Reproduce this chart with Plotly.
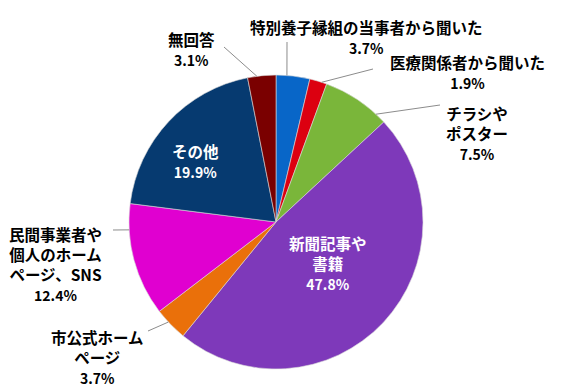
import math
import plotly.graph_objects as go

# ---- data ----
categories = ["特別養子縁組の当事者から聞いた", "医療関係者から聞いた", "チラシやポスター",
              "新聞記事や書籍", "市公式ホームページ", "民間事業者や個人のホームページ、SNS",
              "その他", "無回答"]
values = [3.7, 1.9, 7.5, 47.8, 3.7, 12.4, 19.9, 3.1]
label_lines = [["特別養子縁組の当事者から聞いた"], ["医療関係者から聞いた"], ["チラシや", "ポスター"],
               ["新聞記事や", "書籍"], ["市公式ホーム", "ページ"], ["民間事業者や", "個人のホーム", "ページ、SNS"],
               ["その他"], ["無回答"]]
colors = ["#0866C8", "#DC0010", "#7AB63A", "#7E39BA", "#EA700A", "#E000D0", "#063A70", "#7A0000"]

# ---- layout geometry (pixels) ----
W, H = 568, 389
cx, cy, R = 276, 222, 147
FONT = "Noto Sans CJK JP, Noto Sans, sans-serif"

# label centre positions (px), text colour, leader line (outer end px, position within slice)
label_pos = [(366, 37), (467, 72), (477, 133), (328, 263), (97, 357), (55, 264), (195, 161), (191, 49)]
label_color = ["black", "black", "black", "white", "black", "black", "white", "black"]
leaders = {0: ((287, 42), 0.32), 1: ((373, 69), 0.70), 2: ((440, 105), 0.84),
           4: ((148, 331), 0.59), 5: ((113, 230), 0.77), 7: ((224, 47), 0.33)}


def px2paper(x, y):
    return x / W, 1 - y / H


fig = go.Figure(go.Pie(
    labels=categories, values=values, sort=False, direction="clockwise", rotation=0,
    marker=dict(colors=colors, line=dict(color="#D8D8D8", width=0.6)),
    textinfo="none", hoverinfo="label+percent", showlegend=False,
    domain=dict(x=[(cx - R) / W, (cx + R) / W], y=[1 - (cy + R) / H, 1 - (cy - R) / H]),
))

total = sum(values)
annotations = []
shapes = []
cum = 0.0
for i, v in enumerate(values):
    lines = [f"<b>{t}</b>" for t in label_lines[i]]
    lines.append(f"<b><span style='font-size:14px'>{v:.1f}%</span></b>")
    x, y = px2paper(*label_pos[i])
    annotations.append(dict(x=x, y=y, xref="paper", yref="paper", showarrow=False,
                            text="<br>".join(lines), align="center", xanchor="center",
                            yanchor="middle", font=dict(family=FONT, size=15.5, color=label_color[i])))
    if i in leaders:
        (ox, oy), frac = leaders[i]
        ang = 2 * math.pi * (cum + frac * v) / total
        ix, iy = cx + R * math.sin(ang), cy - R * math.cos(ang)
        x0, y0 = px2paper(ox, oy)
        x1, y1 = px2paper(ix, iy)
        shapes.append(dict(type="line", xref="paper", yref="paper", x0=x0, y0=y0, x1=x1, y1=y1,
                           line=dict(color="#8C8C8C", width=1)))
    cum += v

fig.update_layout(
    width=W, height=H, margin=dict(l=0, r=0, t=0, b=0),
    paper_bgcolor="white", plot_bgcolor="white",
    annotations=annotations, shapes=shapes,
)

fig.write_html("out.html", config={"displayModeBar": False},
               post_script="document.body.style.margin='0';document.body.style.overflow='hidden';")
